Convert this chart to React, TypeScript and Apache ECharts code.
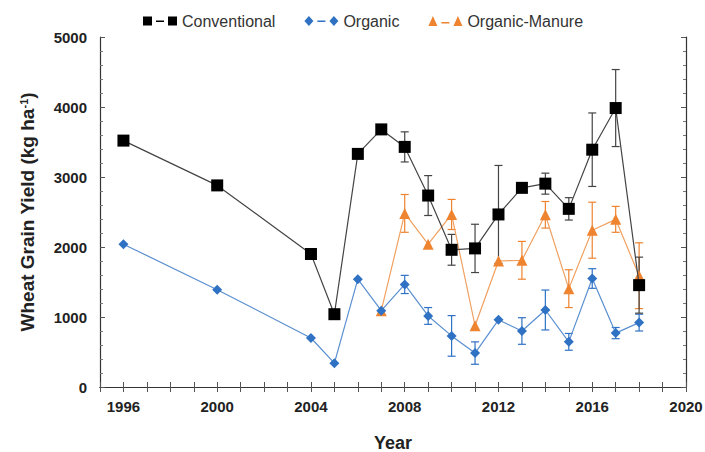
import React, { useEffect, useRef } from "react";
import * as echarts from "echarts";

const years = [1996, 2000, 2004, 2005, 2006, 2007, 2008, 2009, 2010, 2011, 2012, 2013, 2014, 2015, 2016, 2017, 2018];
const conventional = [3520, 2880, 1900, 1040, 3330, 3680, 3430, 2735, 1960, 1980, 2465, 2845, 2905, 2545, 3390, 3985, 1455];
const conventionalErr = [0, 0, 0, 0, 0, 0, 215, 285, 220, 345, 700, 0, 150, 160, 525, 550, 400];
const organic = [2040, 1390, 700, 340, 1540, 1090, 1465, 1015, 730, 485, 960, 800, 1100, 645, 1550, 770, 920];
const organicErr = [0, 0, 0, 0, 0, 0, 130, 120, 290, 160, 0, 190, 285, 120, 140, 80, 120];
const manureYears = [2007, 2008, 2009, 2010, 2011, 2012, 2013, 2014, 2015, 2016, 2017, 2018];
const manure = [1090, 2480, 2040, 2465, 875, 1800, 1810, 2460, 1405, 2240, 2395, 1590];
const manureErr = [0, 270, 0, 215, 0, 0, 270, 190, 270, 400, 185, 470];
const seriesNames = ["Conventional", "Organic", "Organic-Manure"];

const BLACK = "#000000";
const BLUE = "#2f72c4";
const ORANGE = "#ee8330";
const FONT = "Liberation Sans, Arial, sans-serif";

const ICON_SQUARE = "path://M0,1h9v9h-9z M13,5h8v1.5h-8z M25,1h9v9h-9z";
const ICON_DIAMOND = "path://M4.5,0L9,5L4.5,10L0,5z M13,4.5h8v1.5h-8z M29.5,0L34,5L29.5,10L25,5z";
const ICON_TRIANGLE = "path://M4.5,0L9,10H0z M13,6h8v1.5h-8z M29.5,0L34,10H25z";

const pairs = (xs: number[], ys: number[]) => xs.map((x, i) => [x, ys[i]]);
const errs = (xs: number[], ys: number[], es: number[]) =>
  xs.map((x, i) => [x, ys[i] - es[i], ys[i] + es[i]]).filter((_, i) => es[i] > 0);

function errorSeries(name: string, data: number[][], color: string) {
  return {
    type: "custom",
    name: name + "-err",
    data,
    z: 1,
    silent: true,
    renderItem: (params: any, api: any) => {
      const x = api.value(0);
      const lo = api.coord([x, api.value(1)]);
      const hi = api.coord([x, api.value(2)]);
      const w = 4;
      const style = { stroke: color, lineWidth: 1.2 };
      return {
        type: "group",
        children: [
          { type: "line", shape: { x1: lo[0], y1: lo[1], x2: hi[0], y2: hi[1] }, style },
          { type: "line", shape: { x1: lo[0] - w, y1: lo[1], x2: lo[0] + w, y2: lo[1] }, style },
          { type: "line", shape: { x1: hi[0] - w, y1: hi[1], x2: hi[0] + w, y2: hi[1] }, style },
        ],
      };
    },
  };
}

export default function App() {
  const ref = useRef<HTMLDivElement>(null);
  useEffect(() => {
    const chart = echarts.init(ref.current!, null, { renderer: "svg" });
    const axisLine = { show: true, lineStyle: { color: "#333", width: 1.2 } };
    const labelStyle = { color: "#222", fontWeight: "bold", fontSize: 15, fontFamily: FONT };
    const tick = { show: true, inside: true, length: 5, lineStyle: { color: "#555" } };
    chart.setOption({
      animation: false,
      textStyle: { fontFamily: FONT },
      legend: {
        top: 8,
        left: 138,
        itemGap: 29,
        itemWidth: 34,
        itemHeight: 10,
        textStyle: { fontSize: 16, color: "#333", fontFamily: FONT },
        data: [
          { name: seriesNames[0], icon: ICON_SQUARE },
          { name: seriesNames[1], icon: ICON_DIAMOND },
          { name: seriesNames[2], icon: ICON_TRIANGLE },
        ],
      },
      grid: { left: 100, right: 19, top: 37, bottom: 65, containLabel: false, outerBoundsMode: "none" },
      xAxis: [
        {
          type: "value",
          min: 1995,
          max: 2020,
          interval: 1,
          name: "Year",
          nameLocation: "middle",
          nameGap: 47,
          nameTextStyle: { ...labelStyle, fontSize: 18 },
          axisLine,
          axisTick: tick,
          axisLabel: {
            ...labelStyle,
            margin: 12,
            showMaxLabel: true,
            hideOverlap: false,
            formatter: (v: number) => (v % 4 === 0 ? String(v) : ""),
          },
          splitLine: { show: false },
        },
        {
          type: "value",
          position: "top",
          min: 1995,
          max: 2020,
          interval: 1,
          axisLine,
          axisTick: tick,
          axisLabel: { show: false },
          splitLine: { show: false },
        },
      ],
      yAxis: [
        {
          type: "value",
          min: 0,
          max: 5000,
          interval: 1000,
          name: "{a|Wheat Grain Yield (kg ha}{s|-1}{a|)}",
          nameLocation: "middle",
          nameGap: 63,
          nameTextStyle: {
            rich: {
              a: { color: "#222", fontWeight: "bold", fontFamily: FONT, fontSize: 19 },
              s: { color: "#222", fontWeight: "bold", fontFamily: FONT, fontSize: 11, verticalAlign: "top", padding: [0, 0, 8, 0] },
            },
          },
          axisLine,
          axisTick: tick,
          minorTick: { show: true, splitNumber: 5, length: 3, lineStyle: { color: "#777" } },
          axisLabel: { ...labelStyle, margin: 13, formatter: (v: number) => String(v) },
          splitLine: { show: false },
        },
        {
          type: "value",
          position: "right",
          min: 0,
          max: 5000,
          interval: 1000,
          axisLine,
          axisTick: tick,
          minorTick: { show: true, splitNumber: 5, length: 3, lineStyle: { color: "#777" } },
          axisLabel: { show: false },
          splitLine: { show: false },
        },
      ],
      series: [
        errorSeries(seriesNames[2], errs(manureYears, manure, manureErr), ORANGE),
        errorSeries(seriesNames[1], errs(years, organic, organicErr), BLUE),
        errorSeries(seriesNames[0], errs(years, conventional, conventionalErr), "#444"),
        {
          name: seriesNames[2],
          type: "line",
          data: pairs(manureYears, manure),
          symbol: "triangle",
          symbolSize: 11,
          itemStyle: { color: ORANGE },
          lineStyle: { color: "#f0a060", width: 1.2 },
          z: 3,
        },
        {
          name: seriesNames[1],
          type: "line",
          data: pairs(years, organic),
          symbol: "diamond",
          symbolSize: 10,
          itemStyle: { color: BLUE },
          lineStyle: { color: "#5a8fd0", width: 1.2 },
          z: 4,
        },
        {
          name: seriesNames[0],
          type: "line",
          data: pairs(years, conventional),
          symbol: "rect",
          symbolSize: 12,
          itemStyle: { color: BLACK },
          lineStyle: { color: "#444", width: 1.2 },
          z: 5,
        },
      ],
    });
    return () => chart.dispose();
  }, []);
  return (
    <div
      ref={ref}
      style={{ position: "absolute", left: 0, top: 0, width: 705, height: 452, overflow: "hidden" }}
    />
  );
}
